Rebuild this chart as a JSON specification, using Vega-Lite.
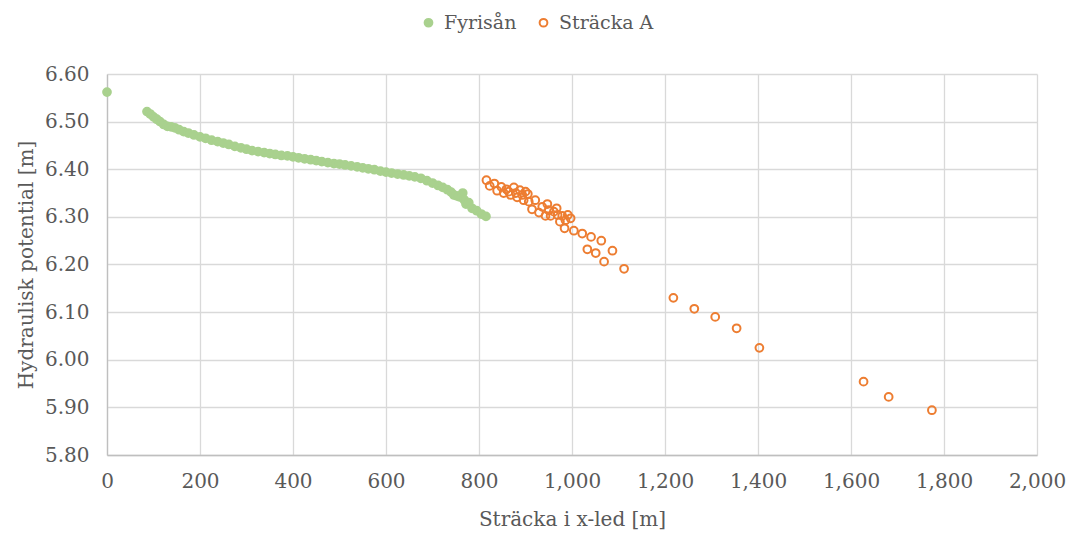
{
  "$schema": "https://vega.github.io/schema/vega-lite/v6.json",
  "autosize": "none",
  "width": 930,
  "height": 381,
  "padding": {"left": 107, "top": 74, "right": 29, "bottom": 78},
  "background": "white",
  "config": {
    "font": "DejaVu Serif",
    "view": {"stroke": null},
    "axis": {
      "labelFont": "DejaVu Serif",
      "titleFont": "DejaVu Serif",
      "labelColor": "#595959",
      "titleColor": "#595959",
      "labelFontSize": 20,
      "titleFontSize": 20,
      "titleFontWeight": "normal",
      "gridColor": "#d9d9d9",
      "gridWidth": 1.3,
      "domainColor": "#bfbfbf",
      "domainWidth": 1.3,
      "ticks": false
    },
    "legend": {
      "labelFont": "DejaVu Serif",
      "labelFontSize": 19,
      "labelColor": "#595959"
    }
  },
  "data": {
    "values": [
      {"x": 0, "y": 6.562, "s": "Fyrisån"},
      {"x": 86, "y": 6.521, "s": "Fyrisån"},
      {"x": 93, "y": 6.516, "s": "Fyrisån"},
      {"x": 100, "y": 6.510, "s": "Fyrisån"},
      {"x": 107, "y": 6.505, "s": "Fyrisån"},
      {"x": 114, "y": 6.500, "s": "Fyrisån"},
      {"x": 122, "y": 6.494, "s": "Fyrisån"},
      {"x": 130, "y": 6.490, "s": "Fyrisån"},
      {"x": 138, "y": 6.489, "s": "Fyrisån"},
      {"x": 146, "y": 6.487, "s": "Fyrisån"},
      {"x": 155, "y": 6.483, "s": "Fyrisån"},
      {"x": 165, "y": 6.479, "s": "Fyrisån"},
      {"x": 175, "y": 6.476, "s": "Fyrisån"},
      {"x": 187, "y": 6.472, "s": "Fyrisån"},
      {"x": 200, "y": 6.468, "s": "Fyrisån"},
      {"x": 212, "y": 6.465, "s": "Fyrisån"},
      {"x": 225, "y": 6.461, "s": "Fyrisån"},
      {"x": 238, "y": 6.458, "s": "Fyrisån"},
      {"x": 250, "y": 6.455, "s": "Fyrisån"},
      {"x": 262, "y": 6.452, "s": "Fyrisån"},
      {"x": 275, "y": 6.448, "s": "Fyrisån"},
      {"x": 288, "y": 6.445, "s": "Fyrisån"},
      {"x": 300, "y": 6.442, "s": "Fyrisån"},
      {"x": 312, "y": 6.439, "s": "Fyrisån"},
      {"x": 325, "y": 6.437, "s": "Fyrisån"},
      {"x": 338, "y": 6.435, "s": "Fyrisån"},
      {"x": 350, "y": 6.433, "s": "Fyrisån"},
      {"x": 362, "y": 6.431, "s": "Fyrisån"},
      {"x": 375, "y": 6.429, "s": "Fyrisån"},
      {"x": 388, "y": 6.428, "s": "Fyrisån"},
      {"x": 400, "y": 6.426, "s": "Fyrisån"},
      {"x": 412, "y": 6.424, "s": "Fyrisån"},
      {"x": 425, "y": 6.422, "s": "Fyrisån"},
      {"x": 438, "y": 6.420, "s": "Fyrisån"},
      {"x": 450, "y": 6.418, "s": "Fyrisån"},
      {"x": 462, "y": 6.416, "s": "Fyrisån"},
      {"x": 475, "y": 6.414, "s": "Fyrisån"},
      {"x": 488, "y": 6.412, "s": "Fyrisån"},
      {"x": 500, "y": 6.411, "s": "Fyrisån"},
      {"x": 512, "y": 6.409, "s": "Fyrisån"},
      {"x": 525, "y": 6.407, "s": "Fyrisån"},
      {"x": 538, "y": 6.405, "s": "Fyrisån"},
      {"x": 550, "y": 6.403, "s": "Fyrisån"},
      {"x": 562, "y": 6.401, "s": "Fyrisån"},
      {"x": 575, "y": 6.399, "s": "Fyrisån"},
      {"x": 588, "y": 6.396, "s": "Fyrisån"},
      {"x": 600, "y": 6.394, "s": "Fyrisån"},
      {"x": 612, "y": 6.392, "s": "Fyrisån"},
      {"x": 625, "y": 6.390, "s": "Fyrisån"},
      {"x": 638, "y": 6.388, "s": "Fyrisån"},
      {"x": 650, "y": 6.386, "s": "Fyrisån"},
      {"x": 662, "y": 6.384, "s": "Fyrisån"},
      {"x": 675, "y": 6.381, "s": "Fyrisån"},
      {"x": 688, "y": 6.376, "s": "Fyrisån"},
      {"x": 700, "y": 6.371, "s": "Fyrisån"},
      {"x": 712, "y": 6.366, "s": "Fyrisån"},
      {"x": 722, "y": 6.362, "s": "Fyrisån"},
      {"x": 732, "y": 6.357, "s": "Fyrisån"},
      {"x": 740, "y": 6.352, "s": "Fyrisån"},
      {"x": 746, "y": 6.346, "s": "Fyrisån"},
      {"x": 752, "y": 6.344, "s": "Fyrisån"},
      {"x": 758, "y": 6.342, "s": "Fyrisån"},
      {"x": 765, "y": 6.350, "s": "Fyrisån"},
      {"x": 768, "y": 6.336, "s": "Fyrisån"},
      {"x": 772, "y": 6.327, "s": "Fyrisån"},
      {"x": 778, "y": 6.330, "s": "Fyrisån"},
      {"x": 785, "y": 6.318, "s": "Fyrisån"},
      {"x": 795, "y": 6.313, "s": "Fyrisån"},
      {"x": 805, "y": 6.306, "s": "Fyrisån"},
      {"x": 815, "y": 6.301, "s": "Fyrisån"},
      {"x": 816, "y": 6.377, "s": "Sträcka A"},
      {"x": 823, "y": 6.365, "s": "Sträcka A"},
      {"x": 833, "y": 6.370, "s": "Sträcka A"},
      {"x": 839, "y": 6.355, "s": "Sträcka A"},
      {"x": 848, "y": 6.363, "s": "Sträcka A"},
      {"x": 853, "y": 6.350, "s": "Sträcka A"},
      {"x": 859, "y": 6.358, "s": "Sträcka A"},
      {"x": 864, "y": 6.353, "s": "Sträcka A"},
      {"x": 868, "y": 6.346, "s": "Sträcka A"},
      {"x": 875, "y": 6.362, "s": "Sträcka A"},
      {"x": 879, "y": 6.350, "s": "Sträcka A"},
      {"x": 882, "y": 6.341, "s": "Sträcka A"},
      {"x": 888, "y": 6.356, "s": "Sträcka A"},
      {"x": 893, "y": 6.346, "s": "Sträcka A"},
      {"x": 896, "y": 6.335, "s": "Sträcka A"},
      {"x": 900, "y": 6.353, "s": "Sträcka A"},
      {"x": 905, "y": 6.348, "s": "Sträcka A"},
      {"x": 907, "y": 6.332, "s": "Sträcka A"},
      {"x": 914, "y": 6.316, "s": "Sträcka A"},
      {"x": 921, "y": 6.335, "s": "Sträcka A"},
      {"x": 929, "y": 6.309, "s": "Sträcka A"},
      {"x": 936, "y": 6.321, "s": "Sträcka A"},
      {"x": 943, "y": 6.302, "s": "Sträcka A"},
      {"x": 947, "y": 6.327, "s": "Sträcka A"},
      {"x": 950, "y": 6.314, "s": "Sträcka A"},
      {"x": 954, "y": 6.302, "s": "Sträcka A"},
      {"x": 961, "y": 6.311, "s": "Sträcka A"},
      {"x": 967, "y": 6.318, "s": "Sträcka A"},
      {"x": 969, "y": 6.304, "s": "Sträcka A"},
      {"x": 974, "y": 6.290, "s": "Sträcka A"},
      {"x": 979, "y": 6.302, "s": "Sträcka A"},
      {"x": 984, "y": 6.276, "s": "Sträcka A"},
      {"x": 986, "y": 6.293, "s": "Sträcka A"},
      {"x": 991, "y": 6.304, "s": "Sträcka A"},
      {"x": 997, "y": 6.297, "s": "Sträcka A"},
      {"x": 1004, "y": 6.271, "s": "Sträcka A"},
      {"x": 1022, "y": 6.265, "s": "Sträcka A"},
      {"x": 1033, "y": 6.232, "s": "Sträcka A"},
      {"x": 1041, "y": 6.258, "s": "Sträcka A"},
      {"x": 1051, "y": 6.224, "s": "Sträcka A"},
      {"x": 1063, "y": 6.250, "s": "Sträcka A"},
      {"x": 1069, "y": 6.206, "s": "Sträcka A"},
      {"x": 1087, "y": 6.229, "s": "Sträcka A"},
      {"x": 1112, "y": 6.191, "s": "Sträcka A"},
      {"x": 1218, "y": 6.130, "s": "Sträcka A"},
      {"x": 1263, "y": 6.107, "s": "Sträcka A"},
      {"x": 1308, "y": 6.090, "s": "Sträcka A"},
      {"x": 1354, "y": 6.066, "s": "Sträcka A"},
      {"x": 1403, "y": 6.025, "s": "Sträcka A"},
      {"x": 1627, "y": 5.954, "s": "Sträcka A"},
      {"x": 1681, "y": 5.922, "s": "Sträcka A"},
      {"x": 1774, "y": 5.894, "s": "Sträcka A"}
    ]
  },
  "mark": {"type": "point", "shape": "circle", "strokeWidth": 2, "opacity": 1, "size": 60},
  "encoding": {
    "x": {
      "field": "x", "type": "quantitative",
      "scale": {"domain": [0, 2000], "nice": false, "zero": false},
      "axis": {"values": [0,200,400,600,800,1000,1200,1400,1600,1800,2000], "format": ",d", "labelPadding": 16, "title": "Sträcka i x-led [m]", "titlePadding": 18, "labelFlush": false}
    },
    "y": {
      "field": "y", "type": "quantitative",
      "scale": {"domain": [5.8, 6.6], "nice": false, "zero": false},
      "axis": {"values": [5.8,5.9,6.0,6.1,6.2,6.3,6.4,6.5,6.6], "format": ".2f", "labelPadding": 18, "title": "Hydraulisk potential [m]", "titlePadding": 8}
    },
    "stroke": {
      "field": "s", "type": "nominal",
      "scale": {"domain": ["Fyrisån", "Sträcka A"], "range": ["#A9D18E", "#ED7D31"]},
      "legend": {"title": null, "orient": "none", "direction": "horizontal", "legendX": 312, "legendY": -61, "columnPadding": 17, "symbolSize": 60, "symbolStrokeWidth": 2, "labelOffset": 6}
    },
    "fill": {
      "field": "s", "type": "nominal",
      "scale": {"domain": ["Fyrisån", "Sträcka A"], "range": ["#A9D18E", "transparent"]},
      "legend": {"title": null, "orient": "none", "direction": "horizontal", "legendX": 312, "legendY": -61, "columnPadding": 17, "symbolSize": 60, "symbolStrokeWidth": 2, "labelOffset": 6}
    }
  }
}
